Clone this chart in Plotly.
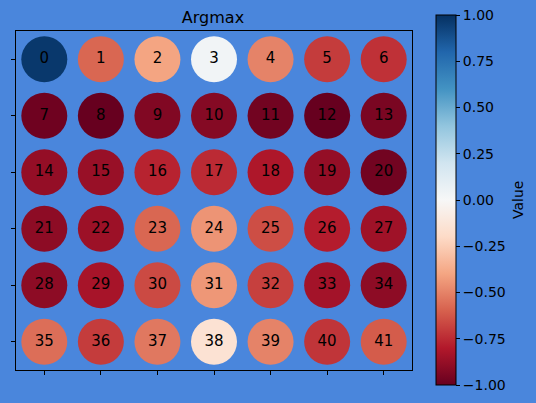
import plotly.graph_objects as go

n_cols = 7
n_rows = 6
labels = [str(i) for i in range(42)]
values = [
    0.97, -0.58, -0.40, 0.03, -0.50, -0.70, -0.73,
    -0.98, -1.00, -0.93, -0.92, -0.97, -1.00, -0.95,
    -0.88, -0.87, -0.77, -0.75, -0.81, -0.88, -0.97,
    -0.90, -0.86, -0.58, -0.45, -0.65, -0.79, -0.85,
    -0.90, -0.83, -0.66, -0.44, -0.69, -0.84, -0.90,
    -0.56, -0.70, -0.53, -0.15, -0.50, -0.72, -0.61,
]
cb_tickvals = [1.0, 0.75, 0.5, 0.25, 0.0, -0.25, -0.5, -0.75, -1.0]
cb_ticktext = ["1.00", "0.75", "0.50", "0.25", "0.00", "\u22120.25", "\u22120.50", "\u22120.75", "\u22121.00"]

rdbu = ["#67001f", "#b2182b", "#d6604d", "#f4a582", "#fddbc7", "#f7f7f7",
        "#d1e5f0", "#92c5de", "#4393c3", "#2166ac", "#053061"]
colorscale = [[i / 10, c] for i, c in enumerate(rdbu)]

xs = [i % n_cols for i in range(len(values))]
ys = [i // n_cols for i in range(len(values))]

BG = "#4a86dc"
FONT = "DejaVu Sans"

fig = go.Figure()
fig.add_trace(go.Scatter(
    x=xs, y=ys, mode="markers+text", text=labels,
    textposition="middle center",
    textfont=dict(family=FONT, size=15, color="black"),
    marker=dict(size=46, color=values, colorscale=colorscale, cmin=-1, cmax=1,
                line=dict(width=0),
                colorbar=dict(
                    thickness=20, thicknessmode="pixels",
                    len=370, lenmode="pixels",
                    x=(436 - 16) / 396, xanchor="left", xpad=0,
                    y=(370 - 200) / 339, yanchor="middle", ypad=0,
                    outlinewidth=1, outlinecolor="black",
                    tickvals=cb_tickvals, ticktext=cb_ticktext,
                    ticks="outside", ticklen=4, tickcolor="black",
                    tickfont=dict(family=FONT, size=14, color="black"),
                )),
    showlegend=False, hoverinfo="skip",
))

fig.add_annotation(text="Value", xref="paper", yref="paper",
                   x=(518 - 16) / 396, y=(370 - 200) / 339,
                   xanchor="center", yanchor="middle", showarrow=False,
                   textangle=-90, font=dict(family=FONT, size=14, color="black"))

fig.update_layout(
    width=536, height=403,
    margin=dict(l=16, r=124, t=31, b=33, autoexpand=False),
    paper_bgcolor=BG, plot_bgcolor=BG,
    title=dict(text="Argmax", x=(213) / 536, xanchor="center", y=1 - 17 / 403, yanchor="middle",
               font=dict(family=FONT, size=16, color="black")),
    xaxis=dict(range=[-0.5, 6.5], showgrid=False, zeroline=False,
               showline=True, mirror=True, linecolor="black", linewidth=1,
               ticks="outside", ticklen=4, tickcolor="black",
               tickvals=list(range(n_cols)), showticklabels=False),
    yaxis=dict(range=[5.5, -0.5], showgrid=False, zeroline=False,
               showline=True, mirror=True, linecolor="black", linewidth=1,
               ticks="outside", ticklen=4, tickcolor="black",
               tickvals=list(range(n_rows)), showticklabels=False),
)

fig.write_html("out.html", config={"displayModeBar": False},
               post_script="document.body.style.margin='0';document.body.style.background='%s';" % BG)
